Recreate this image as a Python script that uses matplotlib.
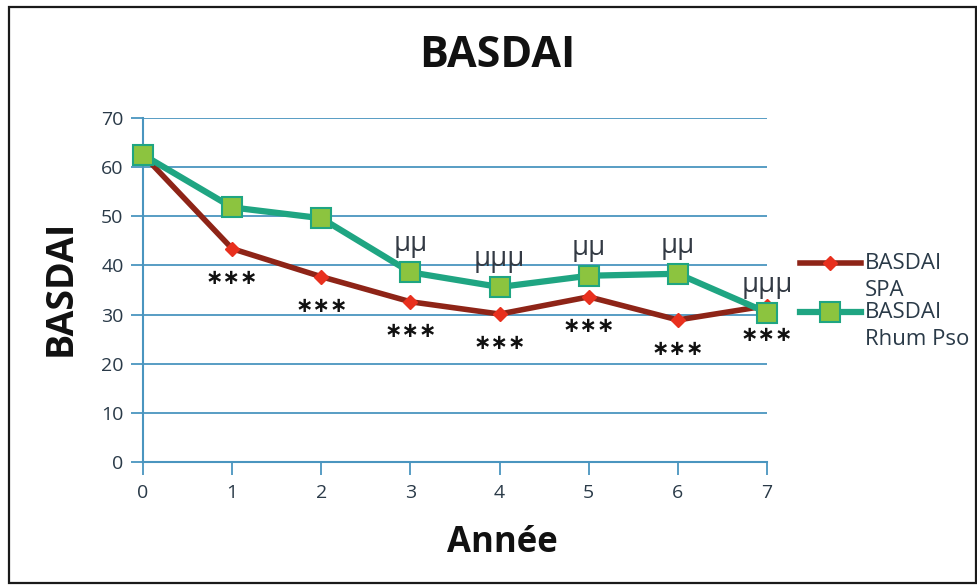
import matplotlib.pyplot as plt
from matplotlib.patches import Rectangle
from matplotlib.lines import Line2D

# data
annees = [0, 1, 2, 3, 4, 5, 6, 7]
basdai_spa = [62.5, 43.4, 37.7, 32.6, 30.1, 33.6, 28.9, 31.8]
basdai_rhum_pso = [62.5, 51.8, 49.6, 38.6, 35.6, 37.9, 38.3, 30.4]
# significance marks
stars_x = [1, 2, 3, 4, 5, 6, 7]
stars_txt = ["∗∗∗"] * 7
mu_x = [3, 4, 5, 6, 7]
mu_txt = ["μμ", "μμμ", "μμ", "μμ", "μμμ"]
labels = ["BASDAI\nSPA", "BASDAI\nRhum Pso"]

plt.rcParams['font.family'] = ['Open Sans', 'DejaVu Sans']

grid_blue = '#4a95bf'
red_line = '#8e2417'
red_mark = '#e8301e'
green_line = '#1fa582'
green_fill = '#8cc43f'
txt_col = '#2a3a48'

fig = plt.figure(figsize=(9.77, 5.87), dpi=100)
ax = fig.add_axes([0.1464, 0.2130, 0.6387, 0.586])

# outer frame
fig.patches.append(Rectangle((0.009, 0.007), 0.99, 0.981, transform=fig.transFigure,
                             fill=False, edgecolor='#1a1a1a', linewidth=1.6))

red_style = dict(color=red_line, linewidth=4, marker='D', markersize=7,
                 markerfacecolor=red_mark, markeredgecolor=red_mark)
green_style = dict(color=green_line, linewidth=4.5, marker='s', markersize=15,
                   markerfacecolor=green_fill, markeredgecolor=green_line, markeredgewidth=1.5)

ax.plot(annees, basdai_spa, zorder=3, clip_on=False, **red_style)
ax.plot(annees, basdai_rhum_pso, zorder=4, clip_on=False, **green_style)

for i, x in enumerate(stars_x):
    y = basdai_spa[annees.index(x)]
    ax.annotate(stars_txt[i], (x, y), xytext=(0, -21), textcoords='offset points',
                ha='center', va='center', fontsize=15, fontweight='bold',
                family='DejaVu Sans', color='#111111')
for i, x in enumerate(mu_x):
    y = basdai_rhum_pso[annees.index(x)]
    ax.annotate(mu_txt[i], (x, y), xytext=(0, 10), textcoords='offset points',
                ha='center', va='bottom', fontsize=20, color='#333a44')

ax.set_xlim(0, 7)
ax.set_ylim(0, 70)
ax.set_xticks(annees)
ax.set_yticks(range(0, 71, 10))
ax.grid(axis='y', color=grid_blue, linewidth=1.3)
ax.set_axisbelow(True)
for s in ['top', 'right']:
    ax.spines[s].set_visible(False)
for s in ['left', 'bottom']:
    ax.spines[s].set_color(grid_blue)
    ax.spines[s].set_linewidth(1.5)
ax.tick_params(axis='both', colors=grid_blue, width=1.3, length=9, labelsize=14,
               labelcolor=txt_col, pad=5)
ax.tick_params(axis='x', pad=7)

fig.text(0.509, 0.905, 'BASDAI', fontsize=31, fontweight='bold', ha='center', va='center',
         color='#111111')
fig.text(0.062, 0.51, 'BASDAI', fontsize=27, fontweight='bold', ha='center', va='center',
         rotation=90, color='#111111')
fig.text(0.514, 0.075, 'Année', fontsize=25, fontweight='bold', ha='center', va='center',
         color='#111111')

# legend drawn by hand so the handle sits on the first line of each label
leg_y = [0.552, 0.468]
for yy, lab, st in zip(leg_y, labels, [red_style, green_style]):
    fig.add_artist(Line2D([0.819, 0.850, 0.881], [yy, yy, yy], transform=fig.transFigure,
                          markevery=[1], **st))
    fig.text(0.885, yy + 0.017, lab, fontsize=16, ha='left', va='top', color=txt_col,
             linespacing=1.35)

fig.savefig('out.png', dpi=100)
